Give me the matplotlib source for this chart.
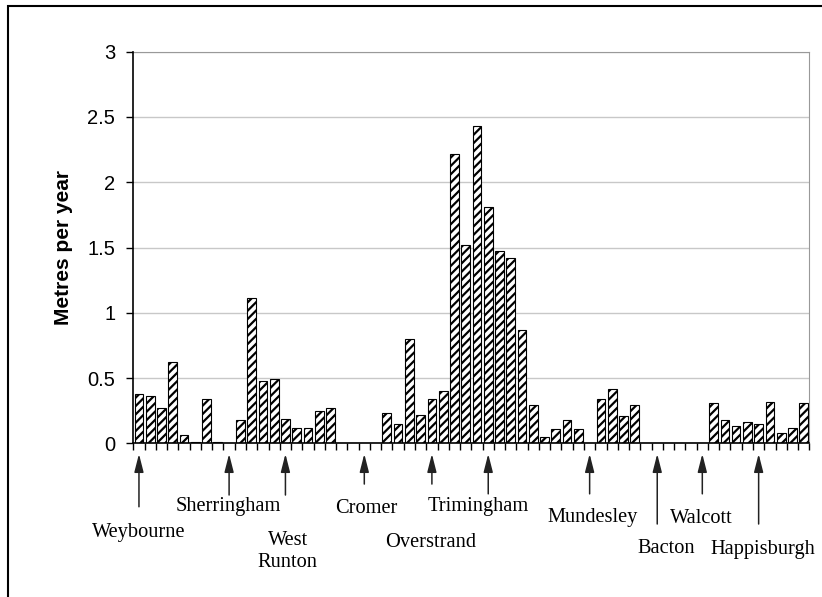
import matplotlib
matplotlib.use("Agg")
import matplotlib.pyplot as plt
from matplotlib.patches import Rectangle

# erosion rate for each coastal section, west to east (metres per year)
rates = [0.38, 0.36, 0.27, 0.62, 0.06, 0.01, 0.34, 0.01, 0, 0.18,
         1.11, 0.48, 0.49, 0.19, 0.12, 0.12, 0.25, 0.27, 0, 0,
         0, 0, 0.23, 0.15, 0.80, 0.22, 0.34, 0.40, 2.22, 1.52,
         2.43, 1.81, 1.47, 1.42, 0.87, 0.29, 0.05, 0.11, 0.18, 0.11,
         0, 0.34, 0.42, 0.21, 0.29, 0, 0, 0, 0, 0,
         0, 0.31, 0.18, 0.13, 0.16, 0.15, 0.32, 0.08, 0.12, 0.31]

# towns along the coast and the section each arrow points at
towns = ["Weybourne", "Sherringham", "West\nRunton", "Cromer", "Overstrand",
         "Trimingham", "Mundesley", "Bacton", "Walcott", "Happisburgh"]
town_section = [0, 8, 13, 20, 26, 31, 40, 46, 50, 55]

yticks = [0, 0.5, 1, 1.5, 2, 2.5, 3]

# layout of the arrows / labels (axes fraction below the x axis)
arrow_tail = [-0.162, -0.132, -0.132, -0.104, -0.104, -0.129, -0.129, -0.206, -0.129, -0.206]
label_y = [-0.2385, -0.172, -0.3167, -0.1788, -0.2656, -0.172, -0.2002, -0.2809, -0.2028, -0.2835]
label_dx = [0, -0.1, 0.2, 0.2, -0.15, -0.85, 0.27, 0.77, -0.04, 0.36]

plt.rcParams['hatch.linewidth'] = 1.6

fig = plt.figure(figsize=(8.22, 5.97), dpi=100)
ax = fig.add_axes([0.1622, 0.2574, 0.8224, 0.656])

x = list(range(len(rates)))
ax.bar(x, rates, width=0.77, color='white', edgecolor='black',
       hatch='////', linewidth=0.8, zorder=3)

ax.set_xlim(-0.5, len(rates) - 0.5)
ax.set_ylim(0, 3)
ax.set_yticks(yticks)
ax.set_yticklabels([f"{t:g}" for t in yticks], fontsize=14.5, family='Liberation Sans')
ax.tick_params(axis='y', direction='out', length=5, width=1, pad=8)

# category ticks between the bars
ax.set_xticks([])
ax.set_xticks([i - 0.5 for i in range(len(rates) + 1)], minor=True)
ax.tick_params(axis='x', which='minor', direction='out', length=5, width=1)

ax.grid(axis='y', color='#c8c8c8', linewidth=1.0, zorder=0)
ax.spines['top'].set_color('#999999')
ax.spines['right'].set_color('#999999')
ax.spines['left'].set_linewidth(1.2)
ax.spines['bottom'].set_linewidth(1.2)
ax.spines['left'].set_zorder(4)
ax.spines['bottom'].set_zorder(4)

fig.text(63 / 822, 0.585, "Metres per year", rotation=90, ha='center', va='center',
         fontsize=15, fontweight='bold', family='Liberation Sans')

# arrows and town names under the axis
tr = ax.get_xaxis_transform()
for name, sec, tail, ly, dx in zip(towns, town_section, arrow_tail, label_y, label_dx):
    ax.annotate("", xy=(sec, -0.027), xycoords=tr, xytext=(sec, tail), textcoords=tr,
                arrowprops=dict(arrowstyle='-|>,head_length=1.1,head_width=0.28',
                                mutation_scale=10, color='#222222', lw=1.1,
                                shrinkA=0, shrinkB=0),
                annotation_clip=False)
    ax.text(sec + dx, ly, name, transform=tr, ha='center', va='baseline',
            fontsize=14.7, family='Liberation Serif', linespacing=1.25, clip_on=False)

# outer frame of the chart
fig.patches.append(Rectangle((8 / 822, -0.1), 2, 1 - 6 / 597 + 0.1, transform=fig.transFigure,
                             fill=False, edgecolor='black', linewidth=1.5))

fig.savefig("out.png", dpi=100)
